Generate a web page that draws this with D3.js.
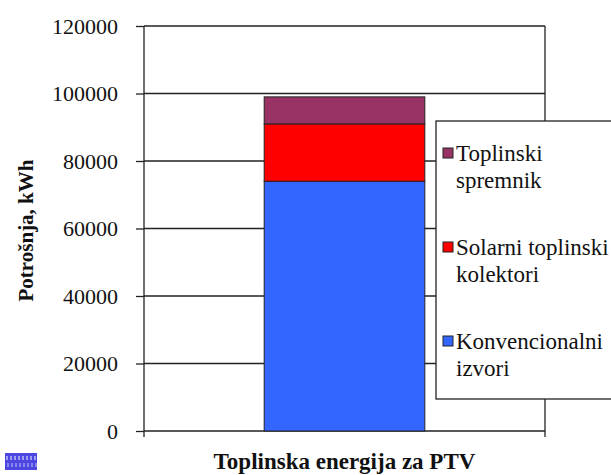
<!DOCTYPE html>
<html>
<head>
<meta charset="utf-8">
<script src="https://cdn.jsdelivr.net/npm/d3@7"></script>
<style>
  body { margin: 0; background: #fff; }
  text { font-family: "Liberation Serif", "Times New Roman", serif; }
</style>
</head>
<body>
<svg width="611" height="475"></svg>
<script>
// podaci
const categories = ['Toplinska energija za PTV']
const seriesNames = ['Konvencionalni izvori', 'Solarni toplinski kolektori', 'Toplinski spremnik']
const seriesValues = [74000, 17000, 8000]
const seriesColors = ['#3366ff', '#ff0000', '#993366']
const yTicks = [0, 20000, 40000, 60000, 80000, 100000, 120000]

const width = 611
const height = 475
const marge = {top: 26, bottom: 44, left: 144, right: 66}

const svg = d3.select('svg')
svg.append('rect').attr('width', width).attr('height', height).attr('fill', '#fff')

const x = d3.scaleBand().domain(categories)
    .range([marge.left, width - marge.right]).padding(0.428)
const y = d3.scaleLinear().domain([0, 120000]).range([height - marge.bottom, marge.top])

// mreža
svg.append('g').selectAll('line').data(yTicks).enter().append('line')
    .attr('x1', marge.left).attr('x2', width - marge.right)
    .attr('y1', d => y(d)).attr('y2', d => y(d))
    .attr('stroke', '#222').attr('stroke-width', 1.3)

// desni rub
svg.append('line')
    .attr('x1', width - marge.right).attr('x2', width - marge.right)
    .attr('y1', y(120000)).attr('y2', y(0) + 6)
    .attr('stroke', '#222').attr('stroke-width', 1.3)

// os y
const yAxis = svg.append('g').attr('transform', `translate(${marge.left},0)`)
    .call(d3.axisLeft(y).tickValues(yTicks).tickSize(8).tickPadding(18).tickFormat(d3.format('d')))
yAxis.select('.domain').remove()
yAxis.append('line').attr('x1', 0).attr('x2', 0).attr('y1', y(120000)).attr('y2', y(0) + 6)
    .attr('stroke', '#222').attr('stroke-width', 1.3)
yAxis.selectAll('.tick line').attr('stroke', '#222').attr('stroke-width', 1.3)
yAxis.selectAll('.tick text').attr('font-family', '"Liberation Serif", serif')
    .attr('font-size', 22).attr('fill', '#111')

// naslagani stupac
const stack = []
let acc = 0
seriesValues.forEach((v, i) => {
    stack.push({name: seriesNames[i], y0: acc, y1: acc + v, color: seriesColors[i]})
    acc += v
})
svg.append('g').selectAll('rect').data(stack).enter().append('rect')
    .attr('x', x(categories[0]))
    .attr('width', x.bandwidth())
    .attr('y', d => y(d.y1))
    .attr('height', d => y(d.y0) - y(d.y1))
    .attr('fill', d => d.color)
    .attr('stroke', '#222').attr('stroke-width', 1)

// naslov osi y
svg.append('text')
    .attr('transform', `translate(33,${(y(0) + y(120000)) / 2 + 2}) rotate(-90)`)
    .attr('text-anchor', 'middle').attr('font-size', 21).attr('font-weight', 'bold')
    .attr('fill', '#111')
    .text('Potrošnja, kWh')

// naslov osi x
svg.append('text')
    .attr('x', x(categories[0]) + x.bandwidth() / 2).attr('y', 469)
    .attr('text-anchor', 'middle').attr('font-size', 23).attr('font-weight', 'bold')
    .attr('fill', '#111')
    .text(categories[0])

// legenda
const legend = svg.append('g')
legend.append('rect').attr('x', 436).attr('y', 121).attr('width', 200).attr('height', 278)
    .attr('fill', '#fff').attr('stroke', '#222').attr('stroke-width', 1.3)
const legendItems = stack.slice().reverse()
const lines = [['Toplinski', 'spremnik'], ['Solarni toplinski', 'kolektori'], ['Konvencionalni', 'izvori']]
const li = legend.selectAll('.item').data(legendItems).enter().append('g')
    .attr('transform', (d, i) => `translate(0,${161 + i * 94})`)
li.append('rect').attr('x', 443).attr('y', -13).attr('width', 10).attr('height', 10)
    .attr('fill', d => d.color).attr('stroke', '#222').attr('stroke-width', 1)
li.append('text').attr('x', 456).attr('font-size', 23).attr('fill', '#111')
    .selectAll('tspan').data((d, i) => lines[i]).enter().append('tspan')
    .attr('x', 456).attr('dy', (d, j) => j === 0 ? 0 : 27)
    .text(d => d)

// mali logo dolje lijevo
const logo = svg.append('g').attr('transform', 'translate(5,453)')
logo.append('rect').attr('width', 32).attr('height', 17).attr('fill', '#4d45e0')
d3.range(0, 30, 4).forEach(i => {
    logo.append('rect').attr('x', i + 1).attr('y', 3).attr('width', 2).attr('height', 4).attr('fill', '#a29ef2')
    logo.append('rect').attr('x', i + 2).attr('y', 10).attr('width', 2).attr('height', 4).attr('fill', '#8a85ee')
})
</script>
</body>
</html>
